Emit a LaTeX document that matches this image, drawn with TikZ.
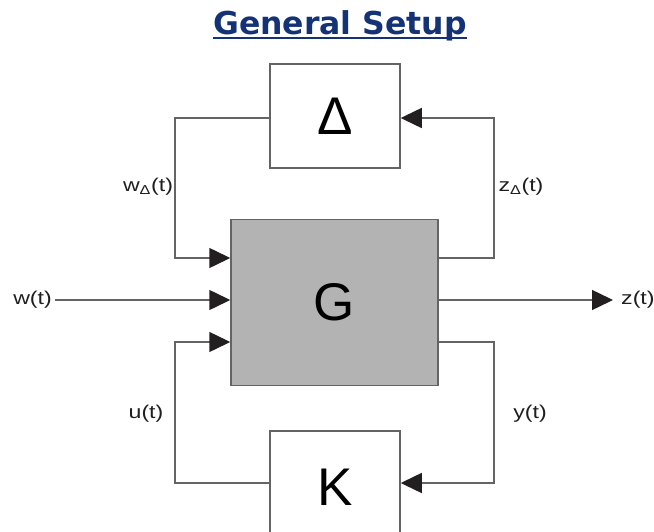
\documentclass[tikz,border=0pt]{standalone}
\usepackage{fontspec}
\setmainfont{Liberation Sans}
\newfontfamily\titlefont{DejaVu Sans}
\usetikzlibrary{arrows.meta}
\definecolor{titleblue}{RGB}{20,50,118}
\definecolor{wire}{RGB}{100,100,100}
\definecolor{tipcol}{RGB}{35,31,32}
\definecolor{plantgray}{RGB}{179,179,179}
\newcommand{\widetxt}[1]{\scalebox{1.25}[1]{#1}}
\tikzset{
  blk/.style={draw=wire, line width=1.5pt, inner sep=0pt, font=\fontsize{53}{53}\selectfont},
  wirestyle/.style={draw=wire, line width=1.5pt},
  arr/.style={wirestyle, -{Triangle[length=21pt,width=20pt,color=tipcol]}},
  lab/.style={font=\fontsize{18.5}{18.5}\selectfont, text=black!88, inner sep=0pt},
}
\begin{document}
\begin{tikzpicture}[x=1pt,y=-1pt]
\useasboundingbox (0,0) rectangle (654,532);
% title
\node[font=\titlefont\bfseries\fontsize{31.5}{31.5}\selectfont, text=titleblue, anchor=base, inner sep=0pt] (title) at (340,35) {General Setup};
\draw[titleblue, line width=2pt] (title.base west) ++(0,3.5) coordinate (ulA) -- (title.base east |- ulA);
% blocks
\node[blk, minimum width=130pt, minimum height=104pt] (D) at (335,116) {Δ};
\node[blk, fill=plantgray, minimum width=207pt, minimum height=166pt] (G) at (334.5,302.5) {G};
\node[blk, minimum width=130pt, minimum height=140pt, anchor=north] (K) at (335,430) {};
\node[font=\fontsize{53}{53}\selectfont, inner sep=0pt] (Ktext) at (335,487) {K};
% coordinates
\coordinate (GinA) at (G.west |- 0,258);
\coordinate (GinB) at (G.west |- 0,300);
\coordinate (GinC) at (G.west |- 0,342);
\coordinate (GoutA) at (G.east |- 0,258);
\coordinate (GoutB) at (G.east |- 0,300);
\coordinate (GoutC) at (G.east |- 0,342);
\coordinate (DinR) at (D.east |- 0,118);
\coordinate (DoutL) at (D.west |- 0,118);
\coordinate (KinR) at (K.east |- 0,483);
\coordinate (KoutL) at (K.west |- 0,483);
\coordinate (wend) at (55,300);
\coordinate (zend) at (613,300);
% labels
\node[lab, anchor=east] (wl) at (52,300) {\widetxt{w(t)}};
\node[lab, anchor=west] (zl) at (621,300) {\widetxt{z(t)}};
\node[lab] (wDl) at (148,187) {\widetxt{w\textsubscript{Δ}(t)}};
\node[lab] (zDl) at (521,187) {\widetxt{z\textsubscript{Δ}(t)}};
\node[lab] (ul) at (146,414) {\widetxt{u(t)}};
\node[lab] (yl) at (530,414) {\widetxt{y(t)}};
% connectors
\draw[arr] (DoutL) -| (175,258) -- (GinA);
\draw[arr] (GoutA) -| (494,118) -- (DinR);
\draw[arr] (wend) -- (GinB);
\draw[arr] (GoutB) -- (zend);
\draw[arr] (KoutL) -| (175,342) -- (GinC);
\draw[arr] (GoutC) -| (494,483) -- (KinR);
\end{tikzpicture}
\end{document}
